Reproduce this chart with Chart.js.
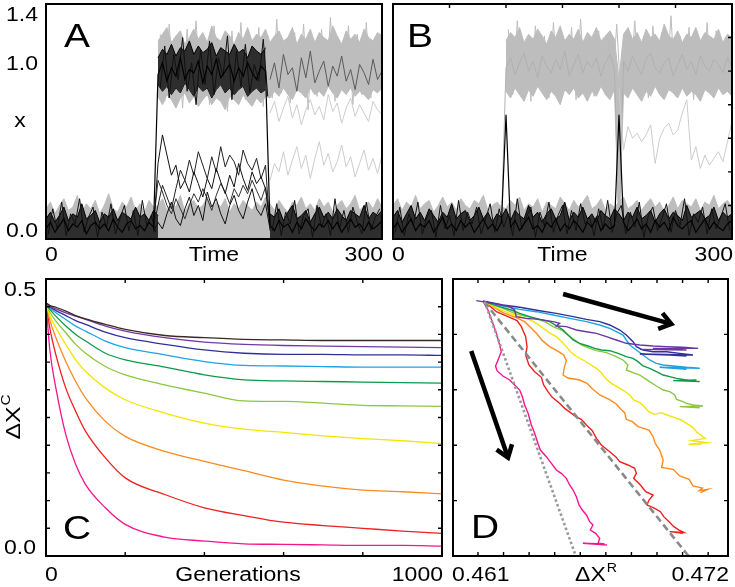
<!DOCTYPE html>
<html>
<head>
<meta charset="utf-8">
<script src="https://cdn.jsdelivr.net/npm/chart.js@4.4.1/dist/chart.umd.min.js"></script>
<style>
  html, body { margin: 0; padding: 0; background: #fff; }
  #wrap { position: relative; width: 735px; height: 587px; }
  #wrap canvas { position: absolute; left: 0; top: 0; }
</style>
</head>
<body>
<div id="wrap">
  <canvas id="pa" width="735" height="587"></canvas>
  <canvas id="pb" width="735" height="587"></canvas>
  <canvas id="pc" width="735" height="587"></canvas>
  <canvas id="pd" width="735" height="587"></canvas>
</div>
<script>
// ---- panels A and B: x(t), sampled every STEP time units ----
const STEP = 4;
const A_GRAY_LOW = [
  0.18,0.22,0.15,0.20,0.24,0.17,0.19,0.26,0.16,0.21,
  0.18,0.23,0.15,0.20,0.27,0.18,0.16,0.22,0.19,0.25,
  0.17,0.21,0.16,0.23,0.19,0.20,0.24,0.17,0.22,0.19,
  0.26,0.16,0.21,0.23,0.18,0.20,0.25,0.17,0.22,0.19,
  0.24,0.16,0.21,0.18,0.23,0.20,0.17,0.22,0.19,0.25,
  0.21,0.17,0.23,0.19,0.16,0.22,0.20,0.25,0.18,0.21,
  0.17,0.24,0.19,0.22,0.16,0.20,0.23,0.18,0.21,0.26,
  0.17,0.20,0.22,0.18,0.24,0.19];
const A_BLACK_LOW_1 = [0.12,0.16,0.10,0.14,0.19,0.11,0.15,0.13,0.21,0.12,0.14,0.17,0.10,
  0.15,0.13,0.18,0.11,0.16,0.14,0.12,0.19,0.13,0.15,0.11,0.17,0.14];
const A_BLACK_LOW_1B = [0.03,0.18,0.06,0.22,0.02,0.15,0.09,0.24,0.04,0.13,0.19,0.01,0.16,
  0.07,0.21,0.03,0.12,0.20,0.05,0.17,0.02,0.23,0.08,0.14,0.04];
const A_BLACK_LOW_2 = [0.15,0.13,0.18,0.11,0.16,0.20,0.12,0.14,0.17,0.10,0.15,0.19,0.13,
  0.16,0.12,0.18,0.14,0.11,0.17,0.15,0.13,0.20,0.12,0.16,0.14,0.17];
const A_BLACK_LOW_2B = [0.05,0.21,0.02,0.16,0.09,0.23,0.03,0.14,0.18,0.01,0.20,0.07,0.15,
  0.02,0.24,0.06,0.17,0.04,0.19,0.10,0.03,0.22,0.05,0.13,0.18];
const A_GRAY_HIGH_TOP = [1.18,1.22,1.26,1.17,1.21,
  1.24,1.16,1.20,1.25,1.19,1.23,1.17,1.27,1.20,1.18,
  1.24,1.21,1.16,1.23,1.19,1.26,1.18,1.22,1.20,1.25,
  1.17,1.21,1.24,1.18,1.20,1.26,1.16,1.22,1.19,1.25,
  1.17,1.23,1.20,1.18,1.27,1.21,1.16,1.24,1.19,1.22,
  1.17,1.25,1.20,1.18,1.23,1.21];
const A_GRAY_HIGH_BOT = [0.85,0.80,0.86,0.83,0.78,
  0.84,0.87,0.81,0.85,0.79,0.83,0.86,0.80,0.84,0.82,
  0.77,0.85,0.83,0.80,0.86,0.82,0.79,0.84,0.81,0.85,
  0.84,0.88,0.85,0.90,0.86,0.83,0.89,0.87,0.84,0.90,
  0.86,0.88,0.85,0.91,0.87,0.84,0.89,0.86,0.90,0.85,
  0.88,0.86,0.83,0.89,0.87,0.90];
const A_GRAY_HIGH_B = [
  1.22,0.82,1.28,0.88,1.15,0.78,1.25,0.92,1.30,0.85,
  1.19,0.80,1.27,0.90,1.12,0.76,1.24,0.86,1.29,0.83,
  1.17,0.89,1.26,0.79,1.21,0.84,1.31,0.87,1.14,0.81,
  1.23,0.91,1.28,0.77,1.18,0.85,1.25,0.88,1.32,0.82,
  1.16,0.90,1.27,0.80,1.22,0.86,1.29,0.84,1.20,0.89];
const A_BLACK_HIGH_TOP = [1.08,1.13,1.10,1.16,1.09,1.14,1.12,1.18,1.10,1.15,1.11,1.13,1.17,
  1.09,1.14,1.12,1.10,1.16,1.11,1.13,1.08,1.15,1.12,1.10,1.14];
const A_BLACK_HIGH_BOT = [0.92,0.88,0.91,0.86,0.90,0.87,0.93,0.89,0.85,0.91,0.88,0.90,0.84,
  0.89,0.92,0.87,0.90,0.86,0.89,0.91,0.85,0.88,0.90,0.87,0.89];
const A_BLACK_HIGH_B = [0.90,1.15,0.84,1.10,0.95,1.20,0.88,1.05,0.80,1.13,0.92,1.18,0.86,
  1.08,0.97,1.21,0.83,1.12,0.91,1.16,0.87,1.04,0.94,1.19,0.85];
const A_SWITCH = [
  0.06,0.10,0.04,0.08,0.12,0.05,0.09,0.07,0.11,0.03,
  0.08,0.10,0.06,0.09,0.05,0.12,0.07,0.04,0.09,0.11,
  0.06,0.08,0.05,0.10,0.07,0.98,1.05,0.94,1.02,0.97,
  1.08,0.95,1.01,0.99,1.06,0.93,1.03,0.98,1.07,0.96,
  1.00,1.04,0.94,1.02,0.97,1.05,0.99,0.95,1.03,1.00,
  0.08,0.05,0.11,0.07,0.09,0.04,0.10,0.06,0.12,0.08,
  0.05,0.09,0.07,0.11,0.06,0.10,0.04,0.08,0.12,0.07,
  0.09,0.05,0.10,0.06,0.08,0.11];
const A_MID_1 = [0.05,0.45,0.62,0.50,0.38,0.44,0.30,0.35,0.28,0.40,0.33,0.25,0.36,0.30,
  0.42,0.34,0.27,0.38,0.31,0.45,0.36,0.29,0.40,0.33,0.37,0.30,0.08];
const A_MID_2 = [0.07,0.20,0.32,0.25,0.18,0.30,0.41,0.35,0.47,0.38,0.52,0.44,0.36,0.49,
  0.40,0.55,0.43,0.50,0.46,0.38,0.53,0.45,0.41,0.48,0.36,0.44,0.05];
const A_MID_3 = [0.04,0.10,0.06,0.15,0.22,0.12,0.08,0.18,0.25,0.14,0.20,0.11,0.28,0.19,
  0.24,0.15,0.09,0.20,0.26,0.17,0.12,0.22,0.30,0.18,0.14,0.21,0.06];
const A_MID_4 = [0.09,0.35,0.28,0.20,0.15,0.24,0.18,0.12,0.20,0.27,0.22,0.30,0.24,0.17,
  0.26,0.33,0.28,0.21,0.30,0.25,0.32,0.27,0.35,0.29,0.23,0.31,0.10];
const A_LIGHT_1 = [0.35,0.45,0.40,0.52,0.38,0.47,0.55,0.42,0.50,0.36,0.48,0.58,0.44,
  0.51,0.40,0.46,0.56,0.43,0.49,0.37,0.45,0.53,0.41,0.48,0.39,0.50];
const A_LIGHT_2 = [0.75,0.82,0.70,0.78,0.85,0.72,0.80,0.68,0.77,0.83,0.74,0.79,0.71,
  0.86,0.76,0.81,0.69,0.78,0.84,0.73,0.80,0.75,0.70,0.82,0.77,0.74];
const A_DARK_1 = [0.95,1.05,0.90,1.10,0.98,1.02,0.88,1.08,0.96,1.12,0.93,1.00,1.06,
  0.91,1.03,0.97,1.09,0.94,1.01,0.89,1.04,0.99,0.92,1.07,0.95,1.00];

const B_GRAY_LOW = [
  0.20,0.24,0.17,0.22,0.19,0.26,0.18,0.21,0.23,0.16,
  0.20,0.25,0.19,0.22,0.17,0.24,0.20,0.18,0.23,0.21,
  0.26,0.17,0.20,0.22,0.19,0.18,0.23,0.20,0.25,0.17,
  0.21,0.19,0.24,0.16,0.22,0.20,0.18,0.25,0.21,0.17,
  0.23,0.19,0.22,0.26,0.18,0.20,0.24,0.17,0.21,0.19,
  0.22,0.25,0.18,0.20,0.23,0.17,0.21,0.24,0.19,0.22,
  0.16,0.20,0.25,0.18,0.23,0.21,0.19,0.24,0.17,0.22,
  0.20,0.26,0.18,0.21,0.23,0.19];
const B_BLACK_LOW = [
  0.13,0.17,0.10,0.15,0.20,0.12,0.16,0.11,0.18,0.14,
  0.10,0.16,0.13,0.21,0.12,0.15,0.17,0.11,0.14,0.19,
  0.12,0.16,0.10,0.15,0.13,0.18,0.11,0.17,0.14,0.12,
  0.20,0.13,0.16,0.10,0.15,0.18,0.12,0.14,0.22,0.11,
  0.16,0.13,0.19,0.12,0.15,0.10,0.17,0.14,0.12,0.18,
  0.15,0.11,0.16,0.13,0.19,0.12,0.14,0.17,0.10,0.15,
  0.18,0.12,0.16,0.14,0.11,0.20,0.13,0.15,0.17,0.12,
  0.14,0.19,0.11,0.16,0.13,0.15];
const B_BLACK_LOW_B = [
  0.04,0.19,0.02,0.15,0.08,0.22,0.03,0.13,0.17,0.01,
  0.20,0.06,0.14,0.02,0.23,0.05,0.16,0.09,0.19,0.03,
  0.12,0.21,0.04,0.18,0.07,0.15,0.02,0.24,0.06,0.13,
  0.19,0.01,0.16,0.08,0.22,0.04,0.14,0.20,0.03,0.17,
  0.05,0.21,0.09,0.13,0.02,0.18,0.06,0.23,0.04,0.15,
  0.20,0.03,0.16,0.07,0.22,0.01,0.14,0.19,0.05,0.12,
  0.21,0.04,0.17,0.08,0.24,0.02,0.15,0.10,0.19,0.03,
  0.18,0.06,0.13,0.21,0.05];
const B_GRAY_HIGH_TOP = [
  1.18,1.23,1.20,1.26,1.17,1.22,1.19,1.25,1.21,1.16,
  1.24,1.20,1.27,1.18,1.22,1.19,1.25,1.17,1.23,1.20,
  1.26,1.18,1.21,1.24,1.19,0.95,1.22,1.26,1.19,1.23,
  1.17,1.25,1.20,1.22,1.18,1.28,1.21,1.19,1.24,1.17,
  1.22,1.20,1.26,1.18,1.23,1.21,1.19,1.25,1.17,1.22,
  1.20];
const B_GRAY_HIGH_BOT = [
  0.88,0.84,0.90,0.86,0.82,0.89,0.85,0.91,0.87,0.83,
  0.88,0.85,0.80,0.89,0.86,0.90,0.84,0.87,0.82,0.88,
  0.85,0.91,0.86,0.83,0.89,0.05,0.87,0.84,0.90,0.86,
  0.82,0.88,0.85,0.91,0.86,0.83,0.89,0.87,0.84,0.90,
  0.85,0.88,0.86,0.82,0.89,0.87,0.84,0.90,0.86,0.88,
  0.85];
const B_GRAY_HIGH_B = [
  1.25,0.86,1.30,0.90,1.18,0.82,1.27,0.95,1.21,0.84,
  1.29,0.88,1.16,0.92,1.26,0.83,1.31,0.89,1.20,0.85,
  1.24,0.91,1.17,0.87,1.28,0.80,1.22,0.93,1.30,0.86,
  1.19,0.84,1.27,0.90,1.23,0.88,1.33,0.85,1.21,0.92,
  1.26,0.83,1.18,0.89,1.29,0.86,1.24,0.91,1.20,0.87];
const B_GRAY_SWITCH = [
  0.08,0.12,0.05,0.10,0.14,0.07,0.11,0.06,0.13,0.09,
  0.05,0.12,0.08,0.15,0.06,0.10,0.13,0.07,0.11,0.09,
  0.14,0.06,0.10,0.08,0.12,1.02,1.08,0.98,1.05,1.11,
  1.00,1.06,0.96,1.09,1.03,0.99,1.07,1.01,1.12,0.97,
  1.04,1.10,0.99,1.06,1.02,1.08,0.97,1.05,1.10,1.01,
  0.03,1.06,1.00,1.09,1.03,0.98,1.07,1.11,1.02,0.99,
  1.05,1.08,0.97,1.04,1.10,1.01,1.06,0.98,1.09,1.03,
  1.00,1.07,1.04,0.99,1.08,1.02];
const B_SPIKE = [
  0.06,0.10,0.04,0.08,0.12,0.05,0.09,0.07,0.11,0.04,
  0.08,0.13,0.06,0.09,0.05,0.11,0.07,0.10,0.04,0.08,
  0.12,0.06,0.09,0.05,0.10,0.74,0.07,0.11,0.05,0.09,
  0.13,0.06,0.08,0.04,0.10,0.07,0.12,0.05,0.09,0.06,
  0.11,0.08,0.04,0.10,0.07,0.13,0.05,0.09,0.06,0.08,
  0.74,0.10,0.05,0.08,0.12,0.06,0.09,0.04,0.11,0.07,
  0.10,0.05,0.13,0.08,0.06,0.09,0.11,0.04,0.08,0.12,
  0.06,0.10,0.07,0.05,0.09,0.11];
const B_LIGHT = [0.90,0.53,0.67,0.60,0.63,0.58,0.62,0.68,0.45,0.60,0.66,0.69,0.62,
  0.65,0.75,0.83,0.47,0.55,0.42,0.50,0.44,0.48,0.52,0.46,0.58,0.70];

// ---- panel C: dX^C against generations ----
const C_GEN = [0, 10, 25, 50, 75, 100, 150, 200, 300, 400, 500, 600, 700, 800, 900, 1000];
const C_BROWN   = [0.457,0.452,0.449,0.442,0.434,0.428,0.418,0.409,0.398,0.394,0.391,0.390,0.389,0.389,0.389,0.389];
const C_PURPLE  = [0.457,0.451,0.446,0.439,0.433,0.427,0.415,0.406,0.394,0.386,0.382,0.380,0.379,0.378,0.377,0.376];
const C_INDIGO  = [0.457,0.450,0.443,0.434,0.425,0.418,0.404,0.394,0.382,0.372,0.366,0.364,0.364,0.363,0.363,0.362];
const C_SKY     = [0.457,0.448,0.439,0.427,0.415,0.406,0.388,0.376,0.363,0.351,0.344,0.343,0.342,0.341,0.341,0.341];
const C_GREEN   = [0.457,0.445,0.433,0.415,0.400,0.388,0.366,0.354,0.341,0.327,0.318,0.316,0.315,0.314,0.313,0.312];
const C_LIME    = [0.457,0.440,0.424,0.403,0.382,0.366,0.342,0.327,0.309,0.294,0.280,0.279,0.276,0.272,0.271,0.270];
const C_YELLOW  = [0.457,0.433,0.412,0.382,0.354,0.333,0.303,0.282,0.258,0.240,0.229,0.223,0.217,0.212,0.208,0.203];
const C_ORANGE  = [0.457,0.425,0.394,0.351,0.315,0.285,0.243,0.216,0.189,0.171,0.154,0.137,0.126,0.119,0.116,0.112];
const C_RED     = [0.457,0.410,0.363,0.303,0.261,0.225,0.177,0.141,0.111,0.087,0.073,0.061,0.055,0.050,0.045,0.041];
const C_MAGENTA = [0.457,0.370,0.303,0.219,0.165,0.129,0.087,0.057,0.034,0.027,0.022,0.021,0.020,0.019,0.019,0.018];

// ---- panel D: dX^C against dX^R ----
const D_MAG_X = [0.46124,0.46149,0.46170,0.46190,0.46206,0.46214,0.46198,0.46186,0.46193,0.46222,
  0.46255,0.46279,0.46304,0.46317,0.46328,0.46345,0.46361,0.46377,0.46393,0.46405,
  0.46434,0.46459,0.46483,0.46507,0.46532,0.46548,0.46565,0.46581,0.46594,0.46610,
  0.46630,0.46646,0.46662,0.46649,0.46675,0.46695,0.46687,0.46719,0.46613,0.46731];
const D_MAG_Y = [0.4603,0.4440,0.4230,0.4019,0.3809,0.3688,0.3538,0.3430,0.3345,0.3249,
  0.3177,0.3087,0.2996,0.2876,0.2726,0.2575,0.2365,0.2214,0.2034,0.1913,
  0.1793,0.1673,0.1552,0.1492,0.1402,0.1282,0.1191,0.1071,0.0921,0.0830,
  0.0740,0.0620,0.0560,0.0469,0.0409,0.0319,0.0229,0.0217,0.0229,0.0199];
const D_RED_X = [0.46133,0.46190,0.46255,0.46291,0.46312,0.46333,0.46340,0.46333,0.46349,0.46377,
  0.46410,0.46421,0.46442,0.46463,0.46496,0.46524,0.46552,0.46578,0.46605,0.46630,
  0.46659,0.46679,0.46703,0.46744,0.46773,0.46793,0.46833,0.46866,0.46874,0.46861,
  0.46894,0.46920,0.46956,0.46936,0.46926,0.46964,0.46992,0.47008,0.47034,0.47057,
  0.47083,0.47106,0.47037,0.47102];
const D_RED_Y = [0.4591,0.4410,0.4308,0.4248,0.4140,0.3959,0.3779,0.3628,0.3448,0.3327,
  0.3225,0.3087,0.2966,0.2864,0.2768,0.2665,0.2587,0.2515,0.2467,0.2365,
  0.2262,0.2124,0.2004,0.1883,0.1793,0.1703,0.1643,0.1582,0.1492,0.1402,
  0.1282,0.1161,0.1101,0.1011,0.0921,0.0860,0.0800,0.0710,0.0620,0.0529,
  0.0469,0.0427,0.0439,0.0409];
const D_ORANGE_X = [0.46133,0.46222,0.46296,0.46328,0.46361,0.46389,0.46415,0.46450,0.46486,0.46519,
  0.46532,0.46522,0.46516,0.46540,0.46597,0.46633,0.46659,0.46695,0.46741,0.46776,
  0.46796,0.46817,0.46825,0.46855,0.46882,0.46936,0.46956,0.46966,0.46988,0.47005,
  0.46998,0.47054,0.47086,0.47132,0.47151,0.47197,0.47181,0.47225,0.47187];
const D_ORANGE_Y = [0.4591,0.4392,0.4290,0.4230,0.4110,0.4007,0.3887,0.3779,0.3706,0.3628,
  0.3526,0.3406,0.3267,0.3213,0.3177,0.3117,0.3020,0.2906,0.2828,0.2744,
  0.2659,0.2587,0.2467,0.2425,0.2335,0.2274,0.2154,0.2034,0.1913,0.1733,
  0.1600,0.1564,0.1444,0.1384,0.1264,0.1227,0.1179,0.1203,0.1143];
const D_YELLOW_X = [0.46133,0.46206,0.46271,0.46320,0.46356,0.46393,0.46426,0.46454,0.46483,0.46509,
  0.46532,0.46552,0.46578,0.46613,0.46646,0.46679,0.46705,0.46728,0.46752,0.46780,
  0.46812,0.46842,0.46861,0.46891,0.46915,0.46936,0.46964,0.46996,0.47024,0.47057,
  0.47093,0.47119,0.47145,0.47168,0.47187,0.47210,0.47145,0.47217,0.47129,0.47192];
const D_YELLOW_Y = [0.4591,0.4452,0.4356,0.4302,0.4260,0.4182,0.4091,0.4019,0.3959,0.3869,
  0.3779,0.3688,0.3610,0.3538,0.3466,0.3387,0.3297,0.3189,0.3117,0.3057,
  0.2984,0.2906,0.2816,0.2768,0.2684,0.2599,0.2557,0.2587,0.2545,0.2503,
  0.2455,0.2395,0.2335,0.2244,0.2184,0.2124,0.2082,0.2046,0.2016,0.2022];
const D_LIME_X = [0.46133,0.46222,0.46279,0.46328,0.46377,0.46426,0.46467,0.46507,0.46540,0.46573,
  0.46605,0.46646,0.46679,0.46728,0.46776,0.46809,0.46833,0.46825,0.46858,0.46891,
  0.46915,0.46939,0.46972,0.47005,0.47037,0.47062,0.47070,0.47102,0.47119,0.47151,
  0.47200,0.47086,0.47184];
const D_LIME_Y = [0.4591,0.4471,0.4380,0.4332,0.4290,0.4230,0.4140,0.4079,0.3989,0.3899,
  0.3809,0.3748,0.3706,0.3670,0.3598,0.3538,0.3448,0.3357,0.3309,0.3267,
  0.3207,0.3147,0.3069,0.2996,0.2966,0.2906,0.2828,0.2786,0.2756,0.2726,
  0.2708,0.2696,0.2677];
const D_GREEN_X = [0.46133,0.46206,0.46263,0.46304,0.46353,0.46402,0.46450,0.46491,0.46516,0.46540,
  0.46565,0.46597,0.46638,0.46671,0.46703,0.46744,0.46785,0.46825,0.46858,0.46882,
  0.46907,0.46939,0.46972,0.47005,0.47037,0.47070,0.47102,0.47151,0.47184,0.47054,0.47168];
const D_GREEN_Y = [0.4591,0.4501,0.4440,0.4380,0.4320,0.4272,0.4230,0.4140,0.4079,0.3989,
  0.3899,0.3839,0.3791,0.3748,0.3718,0.3706,0.3658,0.3598,0.3568,0.3508,
  0.3430,0.3387,0.3327,0.3267,0.3237,0.3207,0.3189,0.3165,0.3147,0.3165,0.3177];
const D_SKY_X = [0.46133,0.46222,0.46304,0.46385,0.46467,0.46548,0.46630,0.46695,0.46744,0.46776,
  0.46809,0.46825,0.46842,0.46874,0.46907,0.46939,0.46972,0.47005,0.47054,0.47119,
  0.47184,0.46988,0.47119];
const D_SKY_Y = [0.4591,0.4513,0.4452,0.4410,0.4350,0.4290,0.4230,0.4170,0.4110,0.4049,
  0.3989,0.3899,0.3809,0.3718,0.3628,0.3538,0.3478,0.3448,0.3430,0.3406,
  0.3388,0.3406,0.3369];
const D_INDIGO_X = [0.46124,0.46222,0.46304,0.46402,0.46483,0.46565,0.46630,0.46695,0.46744,0.46793,
  0.46825,0.46858,0.46874,0.46907,0.46956,0.47021,0.47086,0.47151,0.46891,0.47037,0.47119];
const D_INDIGO_Y = [0.4603,0.4531,0.4489,0.4428,0.4380,0.4320,0.4272,0.4230,0.4170,0.4079,
  0.3989,0.3869,0.3779,0.3718,0.3688,0.3688,0.3658,0.3628,0.3646,0.3628,0.3610];
const D_PURPLE_X = [0.46092,0.46173,0.46255,0.46279,0.46287,0.46336,0.46402,0.46467,0.46499,0.46483,
  0.46532,0.46581,0.46630,0.46679,0.46728,0.46776,0.46825,0.46891,0.46956,0.47021,
  0.47102,0.47176,0.46956,0.47119,0.46891];
const D_PURPLE_Y = [0.4609,0.4561,0.4501,0.4440,0.4320,0.4290,0.4272,0.4230,0.4200,0.4152,
  0.4140,0.4079,0.4049,0.4019,0.3959,0.3899,0.3839,0.3809,0.3791,0.3779,
  0.3767,0.3748,0.3748,0.3718,0.3730];
const D_DOT_X = [0.46133, 0.46578];
const D_DOT_Y = [0.459, 0];
const D_DASH_X = [0.46130, 0.47129];
const D_DASH_Y = [0.459, 0];
const D_ARROW_1_X = [0.46516, 0.47045];
const D_ARROW_1_Y = [0.4729, 0.4188];
const D_ARROW_2_X = [0.46067, 0.46247];
const D_ARROW_2_Y = [0.370, 0.1775];
const D_XTICKS = [0.461, 0.46225, 0.4635, 0.46475, 0.466, 0.46725, 0.4685, 0.46975, 0.471, 0.47225];

const FONT = '"Liberation Sans", Arial, Helvetica, sans-serif';
const SX = 1.18; // the original lettering is a bit wider than Arial

function seg(t0, vals, step) {
  return vals.map((v, i) => ({ x: t0 + (step || STEP) * i, y: v }));
}
function pts(xs, ys) {
  return xs.map((v, i) => ({ x: v, y: ys[i] }));
}
function line(data, color, width, order, extra) {
  return Object.assign({
    data: data, borderColor: color, backgroundColor: color, borderWidth: width,
    pointRadius: 0, tension: 0, fill: false, order: order
  }, extra || {});
}

function drawText(ctx, s, x, y, size, align, lo, hi) {
  ctx.font = size + 'px ' + FONT;
  const w = ctx.measureText(s).width * SX;
  let left = align === 'center' ? x - w / 2 : (align === 'right' ? x - w : x);
  if (lo !== undefined) left = Math.max(lo, Math.min(hi - w, left));
  ctx.save();
  ctx.translate(left, y);
  ctx.scale(SX, 1);
  ctx.textAlign = 'left';
  ctx.textBaseline = 'middle';
  ctx.fillStyle = '#000';
  ctx.fillText(s, 0, 0);
  ctx.restore();
  return w;
}

function drawSup(ctx, main, sup, cx, cy, size) {
  ctx.font = size + 'px ' + FONT;
  const w1 = ctx.measureText(main).width * SX;
  ctx.font = Math.round(size * 0.62) + 'px ' + FONT;
  const w2 = ctx.measureText(sup).width * SX;
  const left = cx - (w1 + w2) / 2;
  drawText(ctx, main, left, cy, size, 'left');
  drawText(ctx, sup, left + w1 + 1, cy - size * 0.36, Math.round(size * 0.62), 'left');
}

function drawArrow(ctx, x0, y0, x1, y1) {
  const ang = Math.atan2(y1 - y0, x1 - x0);
  const L = 14, spread = 0.62;
  ctx.save();
  ctx.strokeStyle = '#000';
  ctx.lineWidth = 4.5;
  ctx.lineJoin = 'miter';
  ctx.beginPath();
  ctx.moveTo(x0, y0);
  ctx.lineTo(x1 - Math.cos(ang) * 2, y1 - Math.sin(ang) * 2);
  ctx.stroke();
  ctx.beginPath();
  ctx.moveTo(x1 - L * Math.cos(ang - spread), y1 - L * Math.sin(ang - spread));
  ctx.lineTo(x1, y1);
  ctx.lineTo(x1 - L * Math.cos(ang + spread), y1 - L * Math.sin(ang + spread));
  ctx.stroke();
  ctx.restore();
}

const deco = {
  id: 'deco',
  afterDraw(chart, args, o) {
    const ctx = chart.ctx, a = chart.chartArea, sx = chart.scales.x, sy = chart.scales.y;
    ctx.save();
    // arrows (data coordinates)
    (o.arrows || []).forEach(ar => {
      drawArrow(ctx, sx.getPixelForValue(ar.x[0]), sy.getPixelForValue(ar.y[0]),
        sx.getPixelForValue(ar.x[1]), sy.getPixelForValue(ar.y[1]));
    });
    // inward tick marks
    const TL = 4;
    ctx.strokeStyle = '#000';
    ctx.lineWidth = 1.4;
    ctx.beginPath();
    const t = o.ticks || {};
    (t.top || []).forEach(v => { const p = sx.getPixelForValue(v); ctx.moveTo(p, a.top); ctx.lineTo(p, a.top + TL); });
    (t.bottom || []).forEach(v => { const p = sx.getPixelForValue(v); ctx.moveTo(p, a.bottom); ctx.lineTo(p, a.bottom - TL); });
    (t.left || []).forEach(v => { const p = sy.getPixelForValue(v); ctx.moveTo(a.left, p); ctx.lineTo(a.left + TL, p); });
    (t.right || []).forEach(v => { const p = sy.getPixelForValue(v); ctx.moveTo(a.right, p); ctx.lineTo(a.right - TL, p); });
    ctx.stroke();
    // frame
    ctx.lineWidth = 2;
    ctx.strokeRect(a.left, a.top, a.right - a.left, a.bottom - a.top);
    // tick labels
    (o.yLabels || []).forEach(l => {
      const p = Math.max(a.top + 12, Math.min(a.bottom - 7, sy.getPixelForValue(l[1]) - 7));
      drawText(ctx, l[0], a.left - o.yLabelGap, p, 19.5, 'right');
    });
    (o.xLabels || []).forEach(l => {
      drawText(ctx, l[0], sx.getPixelForValue(l[1]), a.bottom + o.xLabelGap, 19.5, 'center', a.left - 1, a.right + 1);
    });
    // axis titles
    const mid = (a.left + a.right) / 2 + (o.xTitleShift || 0);
    if (o.xTitle) drawText(ctx, o.xTitle, mid, a.bottom + o.xLabelGap, 19.5, 'center');
    if (o.xTitleSup) drawSup(ctx, o.xTitleSup[0], o.xTitleSup[1], mid, a.bottom + o.xLabelGap, 19.5);
    if (o.yTitle) drawText(ctx, o.yTitle, a.left - 26, (a.top + a.bottom) / 2, 19.5, 'center');
    if (o.yTitleSup) {
      ctx.save();
      ctx.translate(a.left - 32, (a.top + a.bottom) / 2);
      ctx.rotate(-Math.PI / 2);
      drawSup(ctx, o.yTitleSup[0], o.yTitleSup[1], 0, 0, 21);
      ctx.restore();
    }
    // panel letter
    drawText(ctx, o.letter, a.left + o.letterAt[0], o.letterAt[1] < 0 ? a.bottom + o.letterAt[1] : a.top + o.letterAt[1], 33, 'center');
    ctx.restore();
  }
};

function makeChart(id, box, datasets, scales, decoOpts) {
  return new Chart(document.getElementById(id), {
    type: 'line',
    data: { datasets: datasets },
    options: {
      responsive: false,
      animation: false,
      events: [],
      layout: { padding: { left: box[0], top: box[1], right: 735 - box[2], bottom: 587 - box[3] } },
      scales: {
        x: Object.assign({ type: 'linear', display: false }, scales.x),
        y: Object.assign({ type: 'linear', display: false }, scales.y)
      },
      plugins: { legend: { display: false }, tooltip: { enabled: false }, deco: decoOpts }
    },
    plugins: [deco]
  });
}

const GRAY = '#bdbdbd', LIGHT = '#cccccc', DARK = '#2e2e2e';

// ---- A ----
makeChart('pa', [46, 4, 382, 239], [
  line(seg(0, A_GRAY_LOW), GRAY, 1, 20, { fill: 'origin' }),
  line(seg(100, A_GRAY_HIGH_TOP), GRAY, 1, 19, { fill: '+1' }),
  line(seg(100, A_GRAY_HIGH_BOT), GRAY, 1, 19),
  line(seg(102, A_GRAY_HIGH_B), GRAY, 1, 18),
  line(seg(200, A_LIGHT_1), LIGHT, 1, 15),
  line(seg(200, A_LIGHT_2), LIGHT, 1, 15),
  line(seg(200, A_DARK_1), '#5a5a5a', 1, 14),
  line(seg(0, A_BLACK_LOW_1), '#000', 1, 10, { fill: 'origin', backgroundColor: DARK }),
  line(seg(200, A_BLACK_LOW_2), '#000', 1, 10, { fill: 'origin', backgroundColor: DARK }),
  line(seg(100, A_BLACK_HIGH_TOP), '#000', 1, 10, { fill: '+1', backgroundColor: DARK }),
  line(seg(100, A_BLACK_HIGH_BOT), '#000', 1, 10),
  line(seg(2, A_BLACK_LOW_1B), '#111', 1, 8),
  line(seg(202, A_BLACK_LOW_2B), '#111', 1, 8),
  line(seg(102, A_BLACK_HIGH_B), '#111', 1, 8),
  line(seg(96, A_MID_1), '#111', 1, 5),
  line(seg(96, A_MID_2), '#222', 1, 5),
  line(seg(96, A_MID_3), '#111', 1, 5),
  line(seg(96, A_MID_4), '#333', 1, 5),
  line(seg(0, A_SWITCH), '#000', 1.2, 2)
], { x: { min: 0, max: 300 }, y: { min: 0, max: 1.4 } }, {
  yLabels: [['0.0', 0], ['1.0', 1.0], ['1.4', 1.4]], yLabelGap: 8,
  xLabels: [['0', 0], ['300', 300]], xLabelGap: 17,
  xTitle: 'Time', yTitle: 'x', letter: 'A', letterAt: [31, 34]
});

// ---- B ----
makeChart('pb', [393, 4, 732, 239], [
  line(seg(0, B_GRAY_LOW), GRAY, 1, 20, { fill: 'origin' }),
  line(seg(100, B_GRAY_HIGH_TOP), GRAY, 1, 19, { fill: '+1' }),
  line(seg(100, B_GRAY_HIGH_BOT), GRAY, 1, 19),
  line(seg(102, B_GRAY_HIGH_B), GRAY, 1, 18),
  line(seg(0, B_GRAY_SWITCH), '#b0b0b0', 1, 17),
  line(seg(200, B_LIGHT), LIGHT, 1, 15),
  line(seg(0, B_BLACK_LOW), '#000', 1, 10, { fill: 'origin', backgroundColor: DARK }),
  line(seg(2, B_BLACK_LOW_B), '#111', 1, 8),
  line(seg(0, B_SPIKE), '#000', 1.2, 2)
], { x: { min: 0, max: 300 }, y: { min: 0, max: 1.4 } }, {
  ticks: { top: [50, 100, 150, 200, 250], right: [0.2, 0.4, 0.6, 0.8, 1.0, 1.2] },
  xLabels: [['0', 0], ['300', 300]], xLabelGap: 17,
  xTitle: 'Time', letter: 'B', letterAt: [27, 34]
});

// ---- C ----
const C_SERIES = [
  [C_BROWN, '#3b2a20'], [C_PURPLE, '#7338a6'], [C_INDIGO, '#30309a'], [C_SKY, '#1fa3e3'],
  [C_GREEN, '#0b9b4a'], [C_LIME, '#8dc63f'], [C_YELLOW, '#f2e600'], [C_ORANGE, '#ff8a1c'],
  [C_RED, '#ee2020'], [C_MAGENTA, '#f7148f']
];
makeChart('pc', [46, 279, 442, 556],
  C_SERIES.map((s, i) => line(pts(C_GEN, s[0]), s[1], 1.3, i, { cubicInterpolationMode: 'monotone' })),
  { x: { min: 0, max: 1000 }, y: { min: 0, max: 0.5 } }, {
  ticks: { top: [200, 400, 600, 800], bottom: [200, 400, 600, 800],
    left: [0.05, 0.1, 0.15, 0.2, 0.25, 0.3, 0.35, 0.4, 0.45],
    right: [0.05, 0.1, 0.15, 0.2, 0.25, 0.3, 0.35, 0.4, 0.45] },
  yLabels: [['0.0', 0], ['0.5', 0.5]], yLabelGap: 10,
  xLabels: [['0', 0], ['1000', 1000]], xLabelGap: 20,
  xTitle: 'Generations', xTitleShift: -6, yTitleSup: ['\u0394X', 'C'],
  letter: 'C', letterAt: [31, -26]
});

// ---- D ----
const D_SERIES = [
  [D_PURPLE_X, D_PURPLE_Y, '#6d35a3'], [D_INDIGO_X, D_INDIGO_Y, '#30309a'],
  [D_SKY_X, D_SKY_Y, '#1fa3e3'], [D_GREEN_X, D_GREEN_Y, '#0b9b4a'],
  [D_LIME_X, D_LIME_Y, '#8dc63f'], [D_YELLOW_X, D_YELLOW_Y, '#f2e600'],
  [D_ORANGE_X, D_ORANGE_Y, '#ff8a1c'], [D_RED_X, D_RED_Y, '#ee2020'],
  [D_MAG_X, D_MAG_Y, '#f7148f']
];
makeChart('pd', [453, 279, 728, 556],
  D_SERIES.map((s, i) => line(pts(s[0], s[1]), s[2], 1.4, 10 + i)).concat([
    line(pts(D_DOT_X, D_DOT_Y), '#999999', 2.6, 1, { borderDash: [2.5, 2.5] }),
    line(pts(D_DASH_X, D_DASH_Y), '#8a8a8a', 2.6, 1, { borderDash: [7, 4] })
  ]),
  { x: { min: 0.45978, max: 0.47322 }, y: { min: 0, max: 0.5 } }, {
  arrows: [{ x: D_ARROW_1_X, y: D_ARROW_1_Y }, { x: D_ARROW_2_X, y: D_ARROW_2_Y }],
  ticks: { top: D_XTICKS, bottom: D_XTICKS, left: [0.1, 0.2, 0.3, 0.4], right: [0.1, 0.2, 0.3, 0.4] },
  xLabels: [['0.461', 0.461], ['0.472', 0.472]], xLabelGap: 20,
  xTitleSup: ['\u0394X', 'R'], xTitleShift: 5,
  letter: 'D', letterAt: [32, -27]
});
</script>
</body>
</html>
